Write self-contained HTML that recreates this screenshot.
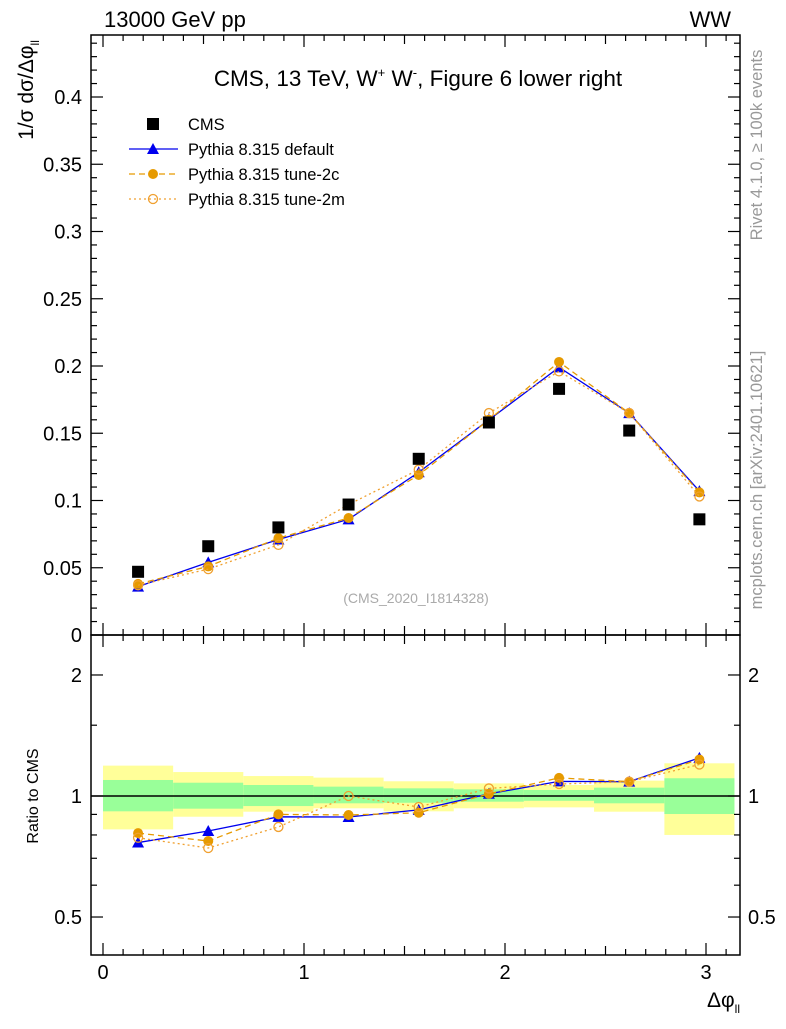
<!DOCTYPE html>
<html><head><meta charset="utf-8"><style>
body{margin:0;background:#fff}
svg{font-family:"Liberation Sans",sans-serif}
</style></head><body>
<svg id="c" width="786" height="1024" viewBox="0 0 786 1024" xmlns="http://www.w3.org/2000/svg">
<text x="104" y="27" font-size="22">13000 GeV pp</text>
<text x="731" y="27" font-size="22" text-anchor="end">WW</text>
<text x="418" y="86" font-size="22.5" text-anchor="middle">CMS, 13 TeV, W<tspan font-size="13" dy="-9">+</tspan><tspan dy="9"> W</tspan><tspan font-size="13" dy="-9">-</tspan><tspan dy="9">, Figure 6 lower right</tspan></text>
<text transform="translate(33,90) rotate(-90)" font-size="21" text-anchor="middle">1/σ dσ/Δφ<tspan font-size="12" dy="6">ll</tspan></text>
<text transform="translate(38,796) rotate(-90)" font-size="16" text-anchor="middle">Ratio to CMS</text>
<text x="740" y="1007" font-size="21" text-anchor="end">Δφ<tspan font-size="12" dy="6">ll</tspan></text>
<text transform="translate(762,145) rotate(-90)" font-size="16.5" fill="#999" text-anchor="middle">Rivet 4.1.0, ≥ 100k events</text>
<text transform="translate(762,480) rotate(-90)" font-size="16.5" fill="#999" text-anchor="middle">mcplots.cern.ch [arXiv:2401.10621]</text>
<text x="416" y="603" font-size="14" fill="#aaa" text-anchor="middle">(CMS_2020_I1814328)</text>
<g id="bands"></g><g id="axes"></g><g id="series"></g><g id="legend"></g>
</svg>
<script>
const categories=[0.1745,0.5236,0.8727,1.2217,1.5708,1.9199,2.2689,2.618,2.9671];
const binEdges=[0,0.349,0.698,1.047,1.396,1.745,2.094,2.443,2.793,3.1416];
const cmsValues=[0.047,0.066,0.080,0.097,0.131,0.158,0.183,0.152,0.086];
const defaultValues=[0.036,0.054,0.071,0.086,0.121,0.160,0.199,0.165,0.107];
const tune2cValues=[0.038,0.051,0.072,0.087,0.119,0.160,0.203,0.165,0.106];
const tune2mValues=[0.037,0.049,0.067,0.097,0.123,0.165,0.196,0.165,0.103];
const yellowHi=[1.19,1.147,1.121,1.111,1.088,1.075,1.065,1.092,1.206];
const yellowLo=[0.826,0.888,0.914,0.932,0.916,0.932,0.937,0.914,0.80];
const greenHi=[1.096,1.079,1.065,1.055,1.045,1.039,1.035,1.049,1.107];
const greenLo=[0.916,0.930,0.944,0.959,0.962,0.968,0.973,0.959,0.902];
const mainTicks=[0,0.05,0.1,0.15,0.2,0.25,0.3,0.35,0.4];
const mainTickLabels=["0","0.05","0.1","0.15","0.2","0.25","0.3","0.35","0.4"];
const xTicks=[0,1,2,3];
const ratioTicks=[0.5,1,2];
const NS="http://www.w3.org/2000/svg";
const L=91,R=740,T=35,M=635,B=955;
const X=v=>103+201*v;
const Y=v=>635-1345*v;
const YR=v=>796-402*Math.log10(v);
function mk(p,tag,at){const e=document.createElementNS(NS,tag);for(const k in at)e.setAttribute(k,at[k]);document.getElementById(p).appendChild(e);return e;}
for(let i=0;i<9;i++){
 const x0=X(binEdges[i]),x1=X(binEdges[i+1]);
 let r=mk('bands','rect',{x:x0,y:YR(yellowHi[i]),width:x1-x0,height:YR(yellowLo[i])-YR(yellowHi[i]),fill:'#ffff99'});
 
 
 r=mk('bands','rect',{x:x0,y:YR(greenHi[i]),width:x1-x0,height:YR(greenLo[i])-YR(greenHi[i]),fill:'#99ff99'});
 
 
}
let one=mk('bands','line',{x1:L,x2:R,y1:YR(1),y2:YR(1),stroke:'#000','stroke-width':1.5});


for(const [y0,y1,n] of [[T,M,'main-frame'],[M,B,'ratio-frame']]){
 const f=mk('axes','rect',{x:L,y:y0,width:R-L,height:y1-y0,fill:'none',stroke:'#000','stroke-width':1.5});
 
 
}
function tk(x1,y1,x2,y2){mk('axes','line',{x1,y1,x2,y2,stroke:'#000','stroke-width':1.2});}
for(let k=0;k<=32;k++){const v=k/10,x=X(v);if(x>R)break;const len=(k%10==0)?12:(k%5==0?9:6);
 tk(x,T,x,T+len);tk(x,M,x,M-len);tk(x,M,x,M+len);tk(x,B,x,B-len);}
xTicks.forEach(v=>{const t=mk('axes','text',{x:X(v),y:979,'font-size':20,'text-anchor':'middle'});t.textContent=v;
 
 });
for(let k=0;k<=44;k++){const y=Y(k/100);const len=k%5==0?12:6;tk(L,y,L+len,y);tk(R,y,R-len,y);}
mainTicks.forEach((v,i)=>{const t=mk('axes','text',{x:82,y:Y(v)+7,'font-size':20,'text-anchor':'end'});t.textContent=mainTickLabels[i];
 
 });
[0.4,0.5,0.6,0.7,0.8,0.9,1,1.5,2].forEach(v=>{const y=YR(v);if(y>B||y<M)return;const len=ratioTicks.includes(v)?12:6;tk(L,y,L+len,y);tk(R,y,R-len,y);});
ratioTicks.forEach(v=>{for(const [x,a] of [[82,'end'],[748,'start']]){const t=mk('axes','text',{x,y:YR(v)+7,'font-size':20,'text-anchor':a});t.textContent=v;
 
 }});
const sers=[
 {vals:defaultValues,col:'#0000ee',dash:'',mark:'tri',name:'default'},
 {vals:tune2cValues,col:'#e69a00',dash:'6,4',mark:'dot',name:'tune-2c'},
 {vals:tune2mValues,col:'#f0a030',dash:'2,3',mark:'circ',name:'tune-2m'}];
function marker(g,type,x,y,col){
 let e;
 if(type=='tri')e=mk(g,'polygon',{points:`${x},${y-6} ${x-6},${y+5} ${x+6},${y+5}`,fill:col});
 else if(type=='dot')e=mk(g,'circle',{cx:x,cy:y,r:5,fill:col});
 else if(type=='circ')e=mk(g,'circle',{cx:x,cy:y,r:4.5,fill:'none',stroke:col,'stroke-width':1.3});
 else e=mk(g,'rect',{x:x-6,y:y-6,width:12,height:12,fill:col});
 return e;}
sers.forEach(s=>{
 const p1=s.vals.map((v,i)=>X(categories[i])+','+Y(v)).join(' ');
 const p2=s.vals.map((v,i)=>X(categories[i])+','+YR(v/cmsValues[i])).join(' ');
 for(const p of [p1,p2]){const l=mk('series','polyline',{points:p,fill:'none',stroke:s.col,'stroke-width':1.3,'stroke-dasharray':s.dash});
  
  }
 s.vals.forEach((v,i)=>{
  let m=marker('series',s.mark,X(categories[i]),Y(v),s.col);
  
  
  m=marker('series',s.mark,X(categories[i]),YR(v/cmsValues[i]),s.col);
  
  
 });
});
cmsValues.forEach((v,i)=>{const m=marker('series','sq',X(categories[i]),Y(v),'#000');
 
 });
const leg=[['CMS','sq','#000',''],['Pythia 8.315 default','tri','#0000ee',''],['Pythia 8.315 tune-2c','dot','#e69a00','6,4'],['Pythia 8.315 tune-2m','circ','#f0a030','2,3']];
leg.forEach((e,i)=>{const y=124+25*i;
 if(i>0){mk('legend','line',{x1:129,x2:178,y1:y,y2:y,stroke:e[2],'stroke-width':1.3,'stroke-dasharray':e[3]});}
 marker('legend',e[1],153,y,e[2]);
 const t=mk('legend','text',{x:188,y:y+6,'font-size':16.5});t.textContent=e[0];
 
 });
</script>
</body></html>
